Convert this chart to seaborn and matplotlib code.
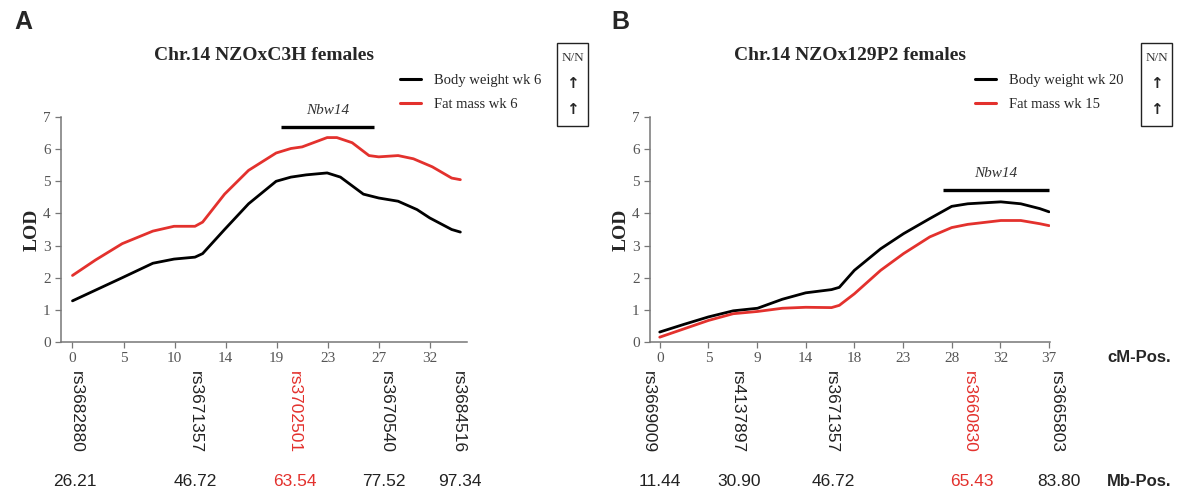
import matplotlib
matplotlib.use('Agg')
import matplotlib.pyplot as plt
from matplotlib.lines import Line2D
from matplotlib.patches import Rectangle
import matplotlib.transforms as mtransforms
import pandas as pd
import seaborn as sns

# ---- panel A: Chr.14 NZOxC3H females (x in tick-index units) ----
a_ticks = ['0', '5', '10', '14', '19', '23', '27', '32']
a_body_x = [0, 0.975, 1.575, 1.99, 2.4, 2.55, 2.98, 3.45, 3.99, 4.28, 4.58, 4.99,
            5.25, 5.70, 6.0, 6.38, 6.75, 7.0, 7.43, 7.6]
a_body = [1.28, 2.0, 2.45, 2.58, 2.64, 2.75, 3.5, 4.3, 5.0, 5.13, 5.2, 5.26,
          5.13, 4.6, 4.48, 4.38, 4.12, 3.86, 3.5, 3.42]
a_fat_x = [0, 0.45, 0.975, 1.575, 1.99, 2.4, 2.55, 2.98, 3.45, 3.99, 4.28, 4.5,
           4.99, 5.18, 5.48, 5.81, 6.0, 6.38, 6.68, 7.05, 7.43, 7.6]
a_fat = [2.07, 2.55, 3.06, 3.45, 3.6, 3.6, 3.73, 4.6, 5.34, 5.88, 6.02, 6.07,
         6.36, 6.36, 6.2, 5.8, 5.76, 5.8, 5.7, 5.45, 5.1, 5.05]
a_markers = ['rs3682880', 'rs3671357', 'rs3702501', 'rs3670540', 'rs3684516']
a_marker_x = [0.07, 2.4, 4.35, 6.15, 7.57]
a_mb = ['26.21', '46.72', '63.54', '77.52', '97.34']
a_mb_x = [0.05, 2.4, 4.35, 6.1, 7.6]
a_peak = 2
a_qtl = [4.09, 5.91]
a_qtl_lod = 6.69
a_labels = ['Body weight wk 6', 'Fat mass wk 6']

# ---- panel B: Chr.14 NZOx129P2 females ----
b_ticks = ['0', '5', '9', '14', '18', '23', '28', '32', '37']
b_x = [0, 0.5, 1.0, 1.51, 2.01, 2.52, 3.0, 3.53, 3.69, 4.0, 4.54, 5.01, 5.55,
       6.0, 6.33, 7.01, 7.42, 7.81, 8.0]
b_body = [0.31, 0.55, 0.78, 0.97, 1.05, 1.33, 1.53, 1.63, 1.7, 2.23, 2.9, 3.37,
          3.84, 4.22, 4.3, 4.36, 4.3, 4.15, 4.05]
b_fat = [0.15, 0.41, 0.67, 0.88, 0.95, 1.05, 1.08, 1.07, 1.14, 1.5, 2.23, 2.75,
         3.27, 3.56, 3.66, 3.78, 3.78, 3.68, 3.62]
b_markers = ['rs3669009', 'rs4137897', 'rs3671357', 'rs3660830', 'rs3665803']
b_marker_x = [-0.24, 1.59, 3.53, 6.37, 8.16]
b_mb = ['11.44', '30.90', '46.72', '65.43', '83.80']
b_mb_x = [0.0, 1.63, 3.57, 6.41, 8.2]
b_peak = 3
b_qtl = [5.82, 7.99]
b_qtl_lod = 4.72
b_labels = ['Body weight wk 20', 'Fat mass wk 15']

W, H = 1182, 492
RED = '#e3312d'
SERIF = 'Liberation Serif'
SANS = 'Liberation Sans'

sns.set_style('ticks')
plt.rcParams['font.family'] = [SERIF, 'DejaVu Serif']

fig = plt.figure(figsize=(W / 100, H / 100), dpi=100)


def fx(px):
    return px / W


def fy(py):
    return 1 - py / H


def draw_panel(left, right, xlim, letter, letter_x, title, title_x,
               ticks, body_x, body, fat_x, fat, labels, qtl, qtl_lod,
               markers, marker_x, mb, mb_x, peak, leg_x, box_x):
    ax = fig.add_axes([fx(left), fy(342), fx(right - left), (342 - 117) / H])
    df = pd.concat([
        pd.DataFrame({'pos': body_x, 'LOD': body, 'trait': labels[0]}),
        pd.DataFrame({'pos': fat_x, 'LOD': fat, 'trait': labels[1]}),
    ])
    sns.lineplot(data=df, x='pos', y='LOD', hue='trait', estimator=None, sort=False,
                 palette={labels[0]: 'black', labels[1]: RED}, linewidth=2.0,
                 legend=False, ax=ax)
    # QTL interval
    ax.plot(qtl, [qtl_lod, qtl_lod], color='black', lw=2.4, solid_capstyle='butt')
    ax.text(sum(qtl) / 2, qtl_lod + 0.32, 'Nbw14', style='italic', fontsize=11,
            ha='center', va='bottom', color='#333')

    ax.set_xlim(*xlim)
    ax.set_ylim(0, 7)
    ax.set_xticks(range(len(ticks)))
    ax.set_xticklabels(ticks)
    ax.set_yticks(range(8))
    ax.tick_params(axis='both', direction='out', length=4, width=0.9,
                   colors='#777', labelsize=11, labelcolor='#555')
    ax.tick_params(axis='x', pad=3)
    ax.set_xlabel('')
    ax.set_ylabel('LOD', fontsize=14, fontweight='bold', labelpad=2)
    sns.despine(ax=ax)
    for s in ['left', 'bottom']:
        ax.spines[s].set_color('#777')
        ax.spines[s].set_linewidth(1.1)

    # SNP markers and physical positions under the axis
    trans = mtransforms.blended_transform_factory(ax.transData, fig.transFigure)
    for i, (name, x) in enumerate(zip(markers, marker_x)):
        ax.text(x, fy(371), name, rotation=270, ha='center', va='top',
                fontsize=12.5, family=SANS, transform=trans,
                color=RED if i == peak else '#222', clip_on=False)
    for i, (val, x) in enumerate(zip(mb, mb_x)):
        ax.text(x, fy(481), val, ha='center', va='center', fontsize=12.5,
                family=SANS, transform=trans,
                color=RED if i == peak else '#222', clip_on=False)

    # legend with N/N box
    handles = [Line2D([], [], color='black', lw=2.2), Line2D([], [], color=RED, lw=2.2)]
    fig.legend(handles, labels, loc='upper left', bbox_to_anchor=(fx(leg_x), fy(74)),
               frameon=False, borderpad=0, borderaxespad=0, handlelength=1.45,
               handletextpad=0.9, labelspacing=0.72, prop={'family': SERIF, 'size': 10.5})
    fig.patches.append(Rectangle((fx(box_x), fy(126)), fx(31), 83 / H, fill=False,
                                 lw=1.0, edgecolor='#222', transform=fig.transFigure))
    fig.text(fx(box_x + 15.5), fy(58), 'N/N', ha='center', va='center', fontsize=9.5,
             color='#333')
    for yy in (83, 109):
        fig.text(fx(box_x + 15.5), fy(yy), '↑', ha='center', va='center', fontsize=11,
                 family='DejaVu Sans', fontweight='bold')

    fig.text(fx(title_x), fy(55), title, ha='center', va='center', fontsize=14,
             fontweight='bold')
    fig.text(fx(letter_x), fy(22), letter, ha='center', va='center', fontsize=18,
             fontweight='bold', family=SANS)
    return ax


draw_panel(61, 467, (-0.225, 7.73), 'A', 23, 'Chr.14 NZOxC3H females', 264,
           a_ticks, a_body_x, a_body, a_fat_x, a_fat, a_labels, a_qtl, a_qtl_lod,
           a_markers, a_marker_x, a_mb, a_mb_x, a_peak, 400, 557)
draw_panel(650, 1050, (-0.2, 8.02), 'B', 620, 'Chr.14 NZOx129P2 females', 850,
           b_ticks, b_x, b_body, b_x, b_fat, b_labels, b_qtl, b_qtl_lod,
           b_markers, b_marker_x, b_mb, b_mb_x, b_peak, 975, 1141)

fig.text(fx(1107), fy(357), 'cM-Pos.', ha='left', va='center', fontsize=12,
         fontweight='bold', family=SANS)
fig.text(fx(1107), fy(482), 'Mb-Pos.', ha='left', va='center', fontsize=12,
         fontweight='bold', family=SANS)

fig.savefig('out.png', dpi=100)
